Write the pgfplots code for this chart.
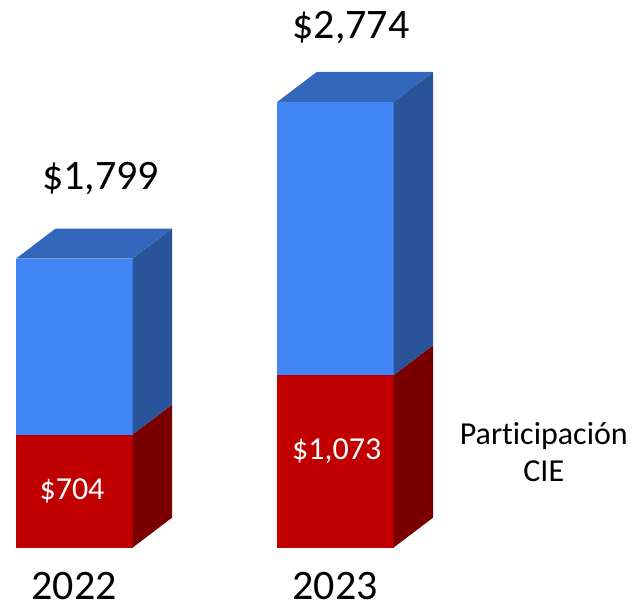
\documentclass[border=0pt]{standalone}
\usepackage{pgfplots}
\pgfplotsset{compat=1.18}
\usepackage{fontspec}
\setmainfont[Ligatures=NoCommon]{Carlito}
\definecolor{bfront}{RGB}{66,133,244}
\definecolor{btop}{RGB}{51,103,187}
\definecolor{bside}{RGB}{42,84,153}
\definecolor{rfront}{RGB}{192,0,0}
\definecolor{rside}{RGB}{122,0,0}
\tikzset{lab/.style={anchor=base, inner sep=0pt, text=black}}
\begin{document}
\begin{tikzpicture}
\begin{axis}[
  scale only axis, width=640pt, height=606pt,
  xmin=0, xmax=640, ymin=-362.8, ymax=3408.2,
  axis lines=none, clip=false,
  every axis plot/.append style={draw=none, forget plot},
]
\path (rel axis cs:0,0) rectangle (rel axis cs:1,1);
% 2022: red 704, total 1799
\addplot[fill=rfront] coordinates {(16,0) (132.5,0) (132.5,704) (16,704)};
\addplot[fill=rside] coordinates {(132.5,0) (172,186.7) (172,890.7) (132.5,704)};
\addplot[fill=bfront] coordinates {(16,704) (132.5,704) (132.5,1799) (16,1799)};
\addplot[fill=bside] coordinates {(132.5,704) (172,890.7) (172,1985.7) (132.5,1799)};
\addplot[fill=btop] coordinates {(16,1799) (132.5,1799) (172,1985.7) (55.5,1985.7)};
% 2023: red 1073, total 2774
\addplot[fill=rfront] coordinates {(277.3,0) (393.5,0) (393.5,1073) (277.3,1073)};
\addplot[fill=rside] coordinates {(393.5,0) (433,186.7) (433,1259.7) (393.5,1073)};
\addplot[fill=bfront] coordinates {(277.3,1073) (393.5,1073) (393.5,2774) (277.3,2774)};
\addplot[fill=bside] coordinates {(393.5,1073) (433,1259.7) (433,2960.7) (393.5,2774)};
\addplot[fill=btop] coordinates {(277.3,2774) (393.5,2774) (433,2960.7) (316.8,2960.7)};
\node[lab] at (axis cs:100.5,2229) {\fontsize{42}{48}\selectfont \$1,799};
\node[lab] at (axis cs:351,3169) {\fontsize{42}{48}\selectfont \$2,774};
\node[lab] at (axis cs:74,-325) {\fontsize{42}{48}\selectfont 2022};
\node[lab] at (axis cs:335,-325) {\fontsize{42}{48}\selectfont 2023};
\node[lab,text=white] at (axis cs:72,297) {\fontsize{32}{38}\selectfont \$704};
\node[lab,text=white] at (axis cs:336.7,546) {\fontsize{32}{38}\selectfont \$1,073};
\node[lab] at (axis cs:543.8,645) {\fontsize{32}{38}\selectfont Participación};
\node[lab] at (axis cs:543.8,411) {\fontsize{32}{38}\selectfont CIE};
\end{axis}
\end{tikzpicture}
\end{document}
